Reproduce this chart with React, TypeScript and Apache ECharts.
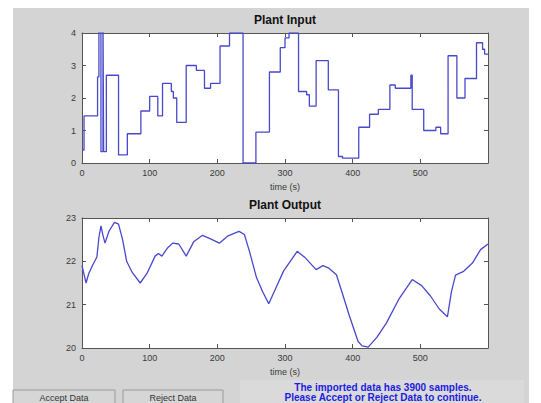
import React, { useEffect, useRef } from "react";
import * as echarts from "echarts";

// Plant input: step changes [time (s), value]
const inputTimes = [0, 3, 23, 25, 28, 31, 32, 36, 54, 67, 87, 100, 112, 119, 132, 135, 140, 154, 169, 181, 190, 204, 218, 238, 257, 277, 293, 300, 306, 320, 332, 336, 346, 364, 379, 385, 409, 425, 438, 455, 463, 486, 488, 505, 523, 530, 541, 554, 566, 583, 592, 595, 600];
const inputValues = [0.4, 1.45, 2.65, 4.5, 0.35, 4.5, 0.35, 2.7, 0.25, 0.9, 1.6, 2.05, 1.45, 2.45, 2.2, 2.0, 1.25, 3.0, 2.85, 2.3, 2.45, 3.6, 4.0, 0.0, 0.95, 2.8, 3.55, 3.85, 4.0, 2.2, 2.1, 1.75, 3.15, 2.25, 0.2, 0.15, 1.1, 1.5, 1.65, 2.4, 2.3, 2.7, 1.65, 1.0, 1.1, 0.9, 3.3, 2.0, 2.6, 3.7, 3.5, 3.35, 3.35];

// Plant output: [time (s), value]
const outputTimes = [0, 3, 6, 10, 16, 22, 25, 28, 31, 34, 40, 48, 54, 60, 66, 74, 86, 96, 108, 113, 118, 126, 134, 143, 154, 165, 178, 190, 203, 215, 232, 240, 248, 258, 267, 276, 287, 298, 318, 330, 346, 356, 364, 376, 386, 395, 408, 414, 423, 436, 450, 468, 488, 502, 515, 528, 540, 546, 552, 564, 577, 589, 600];
const outputValues = [21.9, 21.7, 21.5, 21.72, 21.92, 22.1, 22.55, 22.82, 22.6, 22.42, 22.7, 22.9, 22.86, 22.5, 22.0, 21.75, 21.5, 21.72, 22.12, 22.18, 22.12, 22.3, 22.42, 22.4, 22.12, 22.45, 22.6, 22.52, 22.42, 22.58, 22.69, 22.62, 22.2, 21.62, 21.3, 21.02, 21.4, 21.78, 22.23, 22.08, 21.81, 21.9, 21.85, 21.69, 21.2, 20.75, 20.15, 20.05, 20.02, 20.25, 20.58, 21.12, 21.58, 21.44, 21.2, 20.9, 20.72, 21.3, 21.68, 21.77, 21.96, 22.27, 22.4];

const xTicks = { min: 0, max: 600, interval: 100 };
const inputTicks = { min: 0, max: 4, interval: 1 };
const outputTicks = { min: 20, max: 23, interval: 1 };

const titles = ["Plant Input", "Plant Output"];
const xLabel = "time (s)";
const buttons = ["Accept Data", "Reject Data"];
const message = ["The imported data has 3900 samples.", "Please Accept or Reject Data to continue."];

const FONT = "'Liberation Sans', Arial, sans-serif";
const AXIS = "#555555";
const LABEL = "#3a3a3a";
const LINE = "#4848cc";

export default function App() {
  const ref = useRef<HTMLDivElement>(null);
  useEffect(() => {
    if (!ref.current) return;
    const chart = echarts.init(ref.current, null, { renderer: "svg" });

    const grids = [
      { left: 82, top: 33, width: 406, height: 130 },
      { left: 82, top: 218, width: 406, height: 130 },
    ];

    const xAxes: any[] = [];
    const yAxes: any[] = [];
    const yRanges = [inputTicks, outputTicks];
    [0, 1].forEach((g) => {
      const common = {
        gridIndex: g,
        type: "value",
        min: xTicks.min,
        max: xTicks.max,
        interval: xTicks.interval,
        axisLine: { show: true, onZero: false, lineStyle: { color: AXIS, width: 1 } },
        axisTick: { show: true, inside: true, length: 4, lineStyle: { color: AXIS } },
        splitLine: { show: false },
      };
      xAxes.push({
        ...common,
        position: "bottom",
        axisLabel: {
          fontSize: 9,
          fontFamily: FONT,
          color: LABEL,
          margin: 5,
          formatter: (v: number) => (v === xTicks.max ? "" : String(v)),
        },
        name: xLabel,
        nameLocation: "middle",
        nameGap: 19,
        nameTextStyle: { fontSize: 9, fontFamily: FONT, color: LABEL },
      });
      xAxes.push({ ...common, position: "top", axisLabel: { show: false } });
      const yr = yRanges[g];
      const ycommon = {
        gridIndex: g,
        type: "value",
        min: yr.min,
        max: yr.max,
        interval: yr.interval,
        axisLine: { show: true, onZero: false, lineStyle: { color: AXIS, width: 1 } },
        axisTick: { show: true, inside: true, length: 4, lineStyle: { color: AXIS } },
        splitLine: { show: false },
      };
      yAxes.push({
        ...ycommon,
        position: "left",
        axisLabel: { fontSize: 9, fontFamily: FONT, color: LABEL, margin: 6 },
      });
      yAxes.push({ ...ycommon, position: "right", axisLabel: { show: false } });
    });

    const inputData = inputTimes.map((t, i) => [t, inputValues[i]]);
    const outputData = outputTimes.map((t, i) => [t, outputValues[i]]);

    chart.setOption({
      animation: false,
      backgroundColor: "#ffffff",
      grid: grids.map((g) => ({ ...g, show: true, backgroundColor: "#ffffff", borderWidth: 0 })),
      xAxis: xAxes,
      yAxis: yAxes,
      series: [
        {
          type: "line",
          xAxisIndex: 0,
          yAxisIndex: 0,
          data: inputData,
          step: "end",
          showSymbol: false,
          clip: true,
          lineStyle: { color: LINE, width: 1.3 },
          z: 3,
        },
        {
          type: "line",
          xAxisIndex: 2,
          yAxisIndex: 2,
          data: outputData,
          showSymbol: false,
          clip: true,
          lineStyle: { color: LINE, width: 1.3 },
          z: 3,
        },
      ],
      graphic: [
        {
          type: "rect",
          shape: { x: 13, y: 8, width: 516, height: 400 },
          style: { fill: "#d4d4d4" },
          z: -10,
          silent: true,
        },
        {
          type: "text",
          x: 285,
          y: 20,
          style: { text: titles[0], font: `bold 12px ${FONT}`, fill: "#111", textAlign: "center", textVerticalAlign: "middle" },
        },
        {
          type: "text",
          x: 285,
          y: 205,
          style: { text: titles[1], font: `bold 12px ${FONT}`, fill: "#111", textAlign: "center", textVerticalAlign: "middle" },
        },
        {
          type: "rect",
          shape: { x: 13, y: 390, width: 102, height: 20 },
          style: { fill: "#d6d6d6", stroke: "#9a9a9a", lineWidth: 1 },
        },
        {
          type: "text",
          x: 64,
          y: 398,
          style: { text: buttons[0], font: `9px ${FONT}`, fill: "#333", textAlign: "center", textVerticalAlign: "middle" },
        },
        {
          type: "rect",
          shape: { x: 123, y: 390, width: 100, height: 20 },
          style: { fill: "#d6d6d6", stroke: "#9a9a9a", lineWidth: 1 },
        },
        {
          type: "text",
          x: 173,
          y: 398,
          style: { text: buttons[1], font: `9px ${FONT}`, fill: "#333", textAlign: "center", textVerticalAlign: "middle" },
        },
        {
          type: "rect",
          shape: { x: 240, y: 380, width: 284, height: 30 },
          style: { fill: "#dadada" },
        },
        {
          type: "text",
          x: 383,
          y: 387,
          style: { text: message[0], font: `bold 10px ${FONT}`, fill: "#1c1ce0", textAlign: "center", textVerticalAlign: "middle" },
        },
        {
          type: "text",
          x: 383,
          y: 397.5,
          style: { text: message[1], font: `bold 10px ${FONT}`, fill: "#1c1ce0", textAlign: "center", textVerticalAlign: "middle" },
        },
      ],
    });
    return () => chart.dispose();
  }, []);

  return (
    <div
      ref={ref}
      style={{ position: "fixed", left: 0, top: 0, width: 541, height: 403 }}
    />
  );
}
